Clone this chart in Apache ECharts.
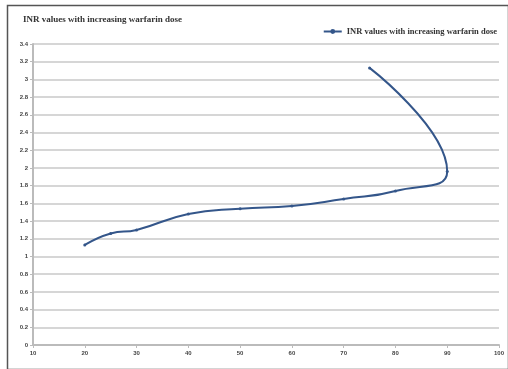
<!DOCTYPE html>
<html>
<head>
<meta charset="utf-8">
<script src="https://cdn.jsdelivr.net/npm/echarts@6/dist/echarts.min.js"></script>
<style>
html,body{margin:0;padding:0;background:#fff;}
#c{width:508px;height:369px;}
</style>
</head>
<body>
<div id="c"></div>
<script>
var doseValues = [20, 25, 30, 40, 50, 60, 70, 80, 90, 75];
var inrValues = [1.13, 1.26, 1.30, 1.48, 1.54, 1.57, 1.65, 1.74, 1.96, 3.13];
var seriesName = 'INR values with increasing warfarin dose';
var titleText = 'INR values with increasing warfarin dose';

var chart = echarts.init(document.getElementById('c'));
var pts = doseValues.map(function(d, i){ return [d, inrValues[i]]; });
chart.setOption({
  animation: false,
  backgroundColor: '#fff',
  graphic: [{
    type: 'rect', left: 5, top: 3,
    shape: {width: 501, height: 364},
    style: {fill: 'none', stroke: '#555', lineWidth: 1.5}
  }],
  title: {
    text: titleText, left: 18, top: 10,
    textStyle: {fontFamily: 'Liberation Serif', fontSize: 9, fontWeight: 'bold', color: '#333'}
  },
  legend: {
    right: 6, top: 22, itemWidth: 18, itemHeight: 6, itemGap: 4,
    data: [{name: seriesName}],
    textStyle: {fontFamily: 'Liberation Serif', fontSize: 8.5, color: '#333', fontWeight: 'bold'}
  },
  grid: {left: 33, right: 9, top: 44, bottom: 24, containLabel: false},
  xAxis: {
    type: 'value', min: 10, max: 100, interval: 10,
    axisLine: {show: true, lineStyle: {color: '#bbb', width: 2}},
    axisTick: {show: true, length: 3, lineStyle: {color: '#bbb'}},
    splitLine: {show: false},
    axisLabel: {fontFamily: 'Liberation Sans', fontSize: 6, color: '#444', fontWeight: 'bold', margin: 5}
  },
  yAxis: {
    type: 'value', min: 0, max: 3.4, interval: 0.2,
    axisLine: {show: true, lineStyle: {color: '#bbb', width: 2}},
    axisTick: {show: true, length: 3, lineStyle: {color: '#bbb'}},
    splitLine: {show: true, lineStyle: {color: '#c8c8c8', width: 1.5}},
    axisLabel: {fontFamily: 'Liberation Sans', fontSize: 6, color: '#444', fontWeight: 'bold', margin: 5,
      formatter: function(v){ return String(Math.round(v*10)/10); }}
  },
  series: [{
    name: seriesName, type: 'line', data: pts, smooth: 0.5,
    symbol: 'circle', symbolSize: 3, showSymbol: true,
    lineStyle: {color: '#34568a', width: 2},
    itemStyle: {color: '#34568a'}
  }]
});
</script>
</body>
</html>
